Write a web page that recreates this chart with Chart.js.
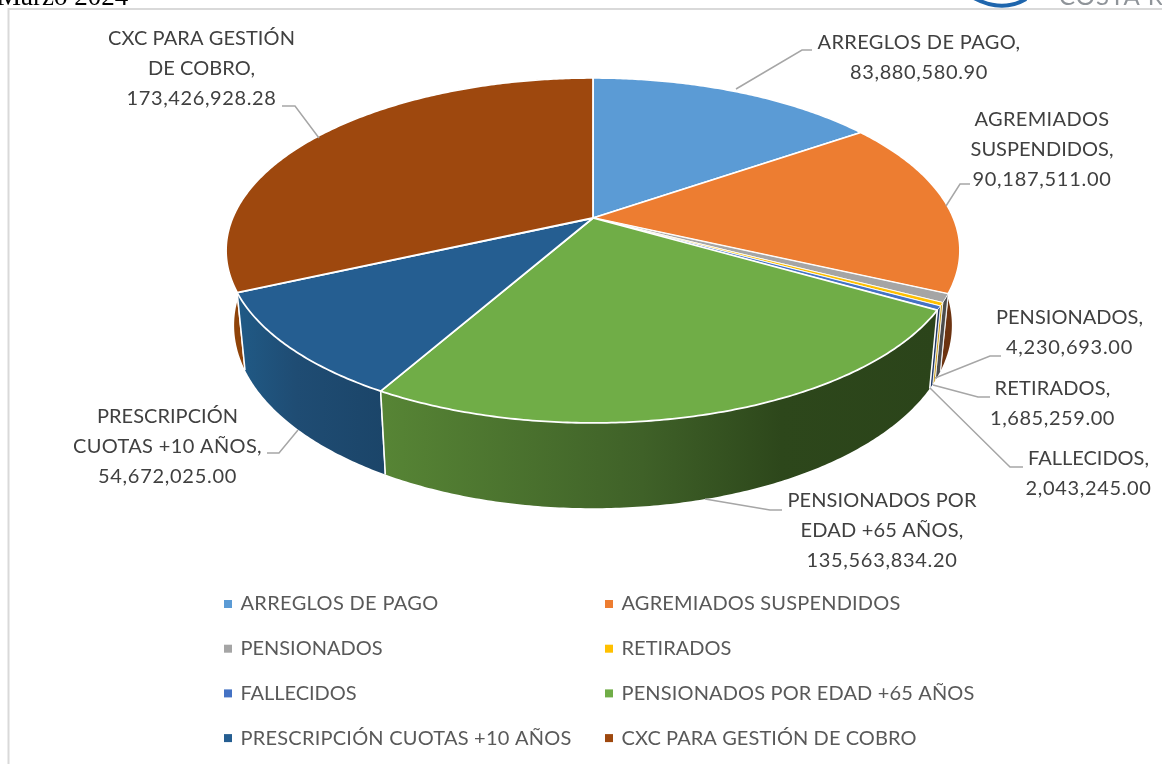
<!DOCTYPE html>
<html><head><meta charset="utf-8">
<style>html,body{margin:0;padding:0;background:#fff;overflow:hidden}canvas{display:block}</style>
<script src="https://cdn.jsdelivr.net/npm/chart.js@4"></script>
</head><body><canvas id="c" width="1162" height="764"></canvas>
<script>
const categories=["ARREGLOS DE PAGO","AGREMIADOS SUSPENDIDOS","PENSIONADOS","RETIRADOS","FALLECIDOS","PENSIONADOS POR EDAD +65 AÑOS","PRESCRIPCIÓN CUOTAS +10 AÑOS","CXC PARA GESTIÓN DE COBRO"];
const values=[83880580.90,90187511.00,4230693.00,1685259.00,2043245.00,135563834.20,54672025.00,173426928.28];
const colors=["#5B9BD5","#ED7D31","#A5A5A5","#FFC000","#4472C4","#70AD47","#255E91","#9E480E"];
const labelLines=[["ARREGLOS DE PAGO,"],["AGREMIADOS","SUSPENDIDOS,"],["PENSIONADOS,"],["RETIRADOS,"],["FALLECIDOS,"],["PENSIONADOS POR","EDAD +65 AÑOS,"],["PRESCRIPCIÓN","CUOTAS +10 AÑOS,"],["CXC PARA GESTIÓN","DE COBRO,"]];
const labelWidths=[[203,138],[135,143,139],[147,127],[116,125],[121,126],[189,163,151],[141,189,139],[187,107,150]];
const labelPos=[[919,43],[1042,120],[1069.5,318],[1052.5,389],[1088.5,459],[882,501],[167.5,417],[201.5,39]];
const leaders=[[[812,50],[802,50],[736,89]],[[970,184],[960,184],[946,206]],[[1001,356],[990,356],[935,378]],[[990,397],[978,397],[933,385]],[[1023,467],[1010,467],[930,388]],[[782,510],[770,510],[705,499]],[[267,453],[279,453],[298,430]],[[282,106],[295,106],[319,138]]];
const legendWidths=[198,279,142,110,116,353,331,295];
const sideStops=[[[0,"#3d6d96"],[1,"#3d6d96"]],[[0,"#7a3a12"],[1,"#6a3210"]],[[0,"#4c4c4c"],[1,"#4c4c4c"]],[[0,"#c89a10"],[1,"#c89a10"]],[[0,"#203864"],[1,"#203864"]],[[0,"#578535"],[.47,"#3f6128"],[.72,"#2d471b"],[1,"#2b441a"]],[[0,"#205a86"],[.4,"#1f4c73"],[1,"#1b4569"]],[[0,"#8f4309"],[1,"#8f4309"]]];
const sideOrder=[7,0,1,2,3,4,6,5];
const FONT='"Lato","Open Sans",sans-serif';
const cx=593,cy=218,A=360.4,B=166.4,K=0.188;
function proj(t){const u=Math.cos(t),v=Math.sin(t),d=1-K*v;return [A*u/d,B*v/d];}
function topP(t){const p=proj(t);return [cx+p[0],cy+p[1]];}
function botP(t){const p=proj(t);return [cx+0.978*p[0],cy+73+1.06*p[1]];}
function samples(a,b){const n=Math.max(2,Math.ceil((b-a)/0.01));const o=[];for(let i=0;i<=n;i++)o.push(a+(b-a)*i/n);return o;}
function fitText(ctx,s,x,y,w){
 ctx.letterSpacing='0px';
 const m=ctx.measureText(s).width;
 ctx.letterSpacing=((w-m)/s.length).toFixed(3)+'px';
 ctx.fillText(s,x,y);
 ctx.letterSpacing='0px';
}
const pie3d={
 id:'pie3d',
 beforeDatasetDraw(chart,args){
  const ctx=chart.ctx,arcs=args.meta.data;
  ctx.save();ctx.lineJoin='round';
  sideOrder.forEach(i=>{
   const a=arcs[i],ts=samples(a.startAngle,a.endAngle),thin=a.endAngle-a.startAngle<0.1;
   const tp=ts.map(topP),bp=ts.map(botP);
   let x0=1e9,x1=-1e9;tp.concat(bp).forEach(p=>{x0=Math.min(x0,p[0]);x1=Math.max(x1,p[0]);});
   const g=ctx.createLinearGradient(x0,0,x1,0);sideStops[i].forEach(s=>g.addColorStop(s[0],s[1]));
   ctx.beginPath();tp.forEach((p,j)=>j?ctx.lineTo(p[0],p[1]):ctx.moveTo(p[0],p[1]));
   bp.reverse().forEach(p=>ctx.lineTo(p[0],p[1]));ctx.closePath();
   ctx.fillStyle=g;ctx.fill();
   ctx.strokeStyle='#fff';ctx.lineWidth=thin?0.8:1.5;
   [a.startAngle,a.endAngle].forEach(t=>{const p=topP(t),q=botP(t);ctx.beginPath();ctx.moveTo(p[0],p[1]);ctx.lineTo(q[0],q[1]);ctx.stroke();});
  });
  arcs.forEach((a,i)=>{
   const ts=samples(a.startAngle,a.endAngle),thin=a.endAngle-a.startAngle<0.1;
   ctx.beginPath();ctx.moveTo(cx,cy);ts.forEach(t=>{const p=topP(t);ctx.lineTo(p[0],p[1]);});ctx.closePath();
   ctx.fillStyle=colors[i];ctx.fill();ctx.strokeStyle='#fff';ctx.lineWidth=thin?0.9:1.8;ctx.stroke();
  });
  ctx.restore();
  return false;
 },
 afterDraw(chart){
  const ctx=chart.ctx;ctx.save();
  ctx.strokeStyle='#D9D9D9';ctx.lineWidth=2;ctx.beginPath();ctx.moveTo(8.5,764);ctx.lineTo(8.5,9);ctx.lineTo(1162,9);ctx.stroke();
  ctx.fillStyle='#000';ctx.font='27px "Liberation Serif"';ctx.textAlign='left';ctx.textBaseline='alphabetic';
  ctx.fillText('Marzo 2024',-3,5);
  ctx.fillStyle='#8f9499';ctx.font='24px "Lato"';ctx.letterSpacing='1px';ctx.fillText('COSTA RICA',1059,5);ctx.letterSpacing='0px';
  ctx.strokeStyle='#1f66ad';ctx.lineWidth=4;ctx.beginPath();ctx.moveTo(974,-2);ctx.quadraticCurveTo(1002,13,1026,-1);ctx.stroke();
  ctx.strokeStyle='#A6A6A6';ctx.lineWidth=1.5;
  leaders.forEach(l=>{ctx.beginPath();l.forEach((p,j)=>j?ctx.lineTo(p[0],p[1]):ctx.moveTo(p[0],p[1]));ctx.stroke();});
  ctx.font='20px '+FONT;ctx.fillStyle='#404040';ctx.textAlign='center';ctx.textBaseline='middle';
  values.forEach((v,i)=>{
   const lines=labelLines[i].concat(v.toLocaleString('en-US',{minimumFractionDigits:2,maximumFractionDigits:2}));
   lines.forEach((s,j)=>fitText(ctx,s,labelPos[i][0],labelPos[i][1]+j*29.6,labelWidths[i][j]));
  });
  ctx.textAlign='left';
  categories.forEach((c,i)=>{
   const col=i%2,row=(i-col)/2,x=col?605:224,y=604+row*44.7;
   ctx.fillStyle=colors[i];ctx.fillRect(x,y-4,8,8);
   ctx.fillStyle='#595959';fitText(ctx,c,x+16.5,y,legendWidths[i]);
  });
  ctx.restore();
 }
};
new Chart(document.getElementById('c'),{
 type:'pie',
 data:{labels:categories,datasets:[{data:values,backgroundColor:colors,borderColor:'#fff'}]},
 options:{responsive:false,animation:false,plugins:{legend:{display:false},tooltip:{enabled:false}}},
 plugins:[pie3d]
});
</script></body></html>
